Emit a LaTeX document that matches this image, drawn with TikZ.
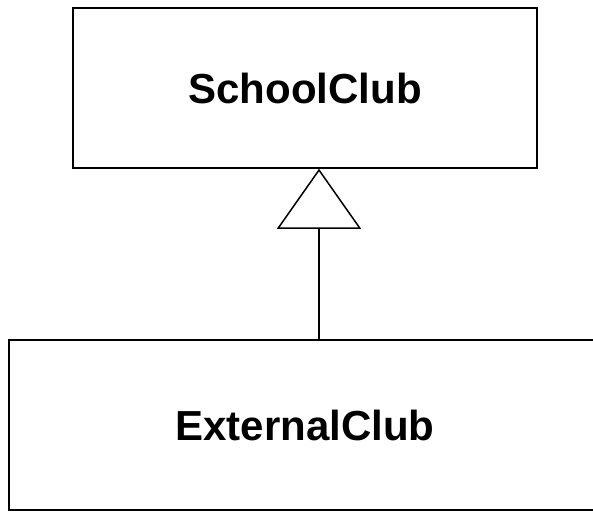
\documentclass[tikz,border=0pt]{standalone}
\usepackage{fontspec}
\setmainfont{Liberation Sans}
\usepackage{tikz}
\usetikzlibrary{arrows.meta}

\tikzset{
	classbox/.style={draw, line width=1.5pt, inner sep=0pt, font=\fontsize{42}{50}\selectfont\bfseries},
	inherits/.style={line width=1.5pt, -{Triangle[open, length=60pt, width=84pt]}}
}

\begin{document}
\begin{tikzpicture}[x=1pt, y=-1pt]
	\useasboundingbox (0,0) rectangle (593,511);
	\clip (0,0) rectangle (593,511);
	\node[classbox, minimum width=464pt, minimum height=160pt] (school) at (305,88) {SchoolClub};
	\node[classbox, minimum width=592pt, minimum height=170pt] (external) at (305,425) {ExternalClub};
	\draw[inherits] (external.north -| 319,0) -- (school.south -| 319,0);
\end{tikzpicture}
\end{document}
